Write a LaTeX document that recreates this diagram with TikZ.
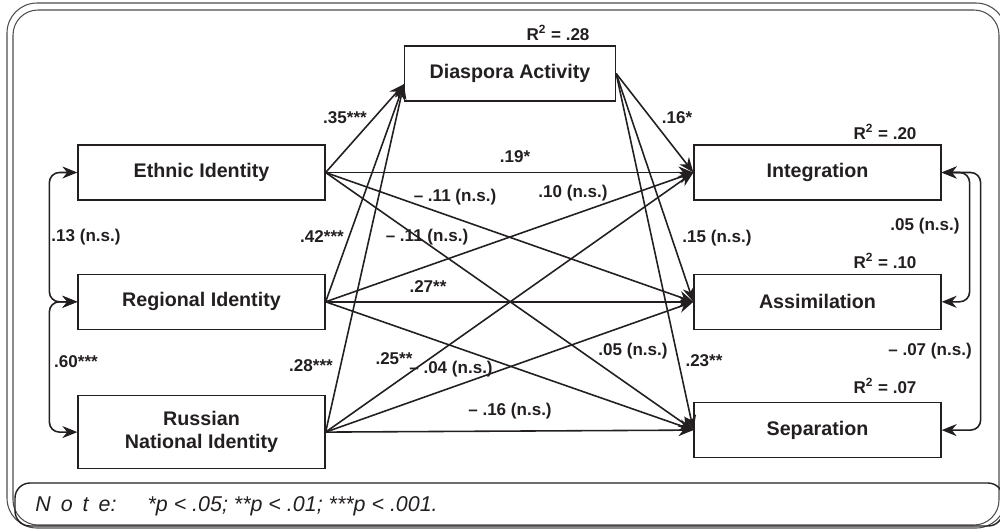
\documentclass[tikz,border=0pt]{standalone}
\usepackage{fontspec}
\setmainfont{Liberation Sans}
\usepackage{xcolor}
\usepackage{tikz}
\usetikzlibrary{arrows.meta,calc,positioning}
\definecolor{ink}{HTML}{231F20}

\begin{document}
\begin{tikzpicture}[
  x=0.02cm,y=-0.02cm,
  box/.style={draw=ink,line width=0.75pt,minimum width=4.94cm,minimum height=1.1cm,align=center,
    font=\bfseries\fontsize{11.2}{13}\selectfont,text=ink,inner sep=2pt},
  lab/.style={font=\bfseries\fontsize{9.7}{11}\selectfont,text=ink,inner sep=0pt},
  arrow/.style={-{Stealth[length=3mm,width=2.4mm]},line width=0.9pt,draw=ink},
  corr/.style={{Stealth[length=3mm,width=2.4mm]}-{Stealth[length=3mm,width=2.4mm]},line width=0.9pt,draw=ink,rounded corners=0.2cm},
  frame/.style={draw=ink!80,line width=0.6pt}
]
\useasboundingbox (0,0) rectangle (1000,529);
% frame and note
\draw[frame,rounded corners=0.6cm] (7,3) rectangle (1006,528);
\draw[frame,rounded corners=0.5cm] (13,10) rectangle (999,525);
\draw[draw=ink,line width=0.8pt,rounded corners=0.3cm] (15,483) rectangle (1003,526);
\node[anchor=west,inner sep=0pt,text=ink,font=\itshape\fontsize{12.2}{15}\selectfont] (note) at (35,506)
  {N\hspace{0.2cm}o\hspace{0.2cm}t\hspace{0.2cm}e:\hspace{0.62cm}*p < .05; **p < .01; ***p < .001.};

% boxes
\node[box] (ethnic) at (201.5,172.5) {Ethnic Identity};
\node[box,below=1.46cm of ethnic] (regional) {Regional Identity};
\node[box,minimum height=1.46cm,below=1.3cm of regional] (russian) {Russian\\National Identity};
\node[box,minimum width=4.22cm] (diaspora) at (510,73.5) {Diaspora Activity};
\node[box] (integration) at (817.5,172.5) {Integration};
\node[box,below=1.46cm of integration] (assim) {Assimilation};
\node[box,below=1.44cm of assim] (separation) {Separation};
\coordinate (dain) at ($(diaspora.west)!0.38!(diaspora.south west)$);

% paths to diaspora
\draw[arrow] (ethnic.east) -- (dain);
\draw[arrow] (regional.east) -- (dain);
\draw[arrow] (russian.east) -- (dain);
% paths from diaspora
\draw[arrow] (diaspora.east) -- (integration.west);
\draw[arrow] (diaspora.east) -- (assim.west);
\draw[arrow] (diaspora.east) -- (separation.west);
% direct paths
\draw[arrow] (ethnic.east) -- (integration.west);
\draw[arrow] (ethnic.east) -- (assim.west);
\draw[arrow] (ethnic.east) -- (separation.west);
\draw[arrow] (regional.east) -- (integration.west);
\draw[arrow] (regional.east) -- (assim.west);
\draw[arrow] (regional.east) -- (separation.west);
\draw[arrow] (russian.east) -- (integration.west);
\draw[arrow] (russian.east) -- (assim.west);
\draw[arrow] (russian.east) -- (separation.west);
% correlations
\draw[corr] (ethnic.west) -- ++(-0.56cm,0) |- (regional.west);
\draw[corr] (regional.west) -- ++(-0.56cm,0) |- (russian.west);
\draw[corr] (integration.east) -- ++(0.56cm,0) |- (assim.east);
\draw[corr] (integration.east) -- ++(0.78cm,0) |- (separation.east);

% coefficients
\node[lab] (r2dia) at (558,33) {R\textsuperscript{2} = .28};
\node[lab] (r2int) at (885,132) {R\textsuperscript{2} = .20};
\node[lab] (r2ass) at (885,261) {R\textsuperscript{2} = .10};
\node[lab] (r2sep) at (885,386) {R\textsuperscript{2} = .07};
\node[lab] (l35) at (345,118) {.35***};
\node[lab] (l42) at (322,237) {.42***};
\node[lab] (l28) at (311,366) {.28***};
\node[lab] (l19) at (515,157) {.19*};
\node[lab] (l11a) at (455,197) {– .11 (n.s.)};
\node[lab] (l11b) at (427,237) {– .11 (n.s.)};
\node[lab] (l10) at (573,193) {.10 (n.s.)};
\node[lab] (l16) at (677,118) {.16*};
\node[lab] (l15) at (717,238) {.15 (n.s.)};
\node[lab] (l27) at (428,287) {.27**};
\node[lab] (l25) at (394,359) {.25**};
\node[lab] (l04) at (451,369) {– .04 (n.s.)};
\node[lab] (l16n) at (510,411) {– .16 (n.s.)};
\node[lab] (l05a) at (633,351) {.05 (n.s.)};
\node[lab] (l23) at (704,361) {.23**};
\node[lab] (l05b) at (925,226) {.05 (n.s.)};
\node[lab] (l07) at (930,351) {– .07 (n.s.)};
\node[lab] (l13) at (86,237) {.13 (n.s.)};
\node[lab] (l60) at (76,362) {.60***};
\end{tikzpicture}
\end{document}
